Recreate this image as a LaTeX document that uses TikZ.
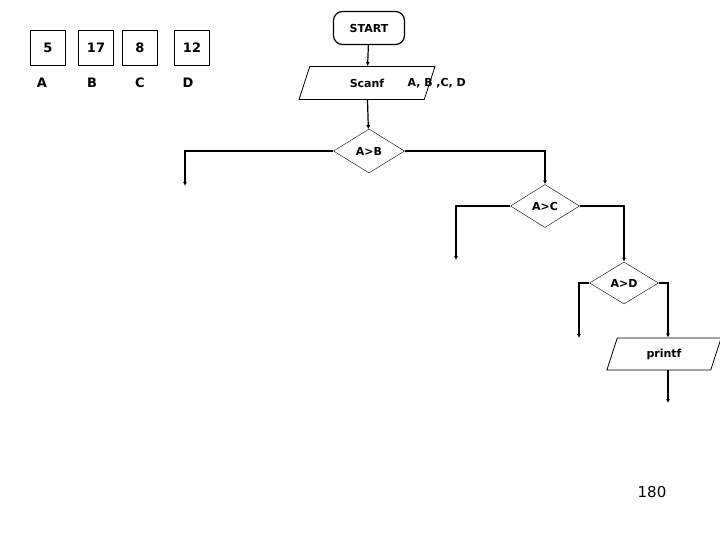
\documentclass[tikz,border=0pt]{standalone}
\usepackage{fontspec}
\setmainfont{DejaVu Sans}
\usetikzlibrary{shapes.geometric,arrows.meta}
\begin{document}
\begin{tikzpicture}[x=1pt,y=-1pt,
  box/.style={draw,line width=0.8pt,minimum width=35pt,minimum height=35pt,font=\bfseries\fontsize{13}{13}\selectfont},
  lab/.style={font=\bfseries\fontsize{13}{13}\selectfont},
  dia/.style={draw,diamond,aspect=1.6,inner sep=0pt,minimum width=71pt,minimum height=44pt,font=\bfseries\fontsize{11}{11}\selectfont},
  para/.style={draw,line width=0.8pt,trapezium,trapezium left angle=72,trapezium right angle=108,inner sep=1pt,font=\bfseries\fontsize{11}{11}\selectfont},
  ln/.style={line width=1.2pt,-{Latex[length=4pt,width=4pt]}}]
\useasboundingbox (0,0) rectangle (720,540);
\node[box] (b5) at (48,48) {5};
\node[box] (b17) at (96,48) {17};
\node[box] (b8) at (140,48) {8};
\node[box] (b12) at (192,48) {12};
\node[lab] (lA) at (42,83) {A};
\node[lab] (lB) at (92,83) {B};
\node[lab] (lC) at (140,83) {C};
\node[lab] (lD) at (188,83) {D};
\node[draw,line width=1.2pt,rounded corners=9pt,minimum width=71pt,minimum height=33pt,font=\bfseries\fontsize{11}{11}\selectfont] (start) at (369,28) {START};
\node[para,minimum width=60pt,minimum height=33pt] (scanf) at (367,83) {Scanf};
\node[lab,font=\bfseries\fontsize{11}{11}\selectfont,anchor=west] (vars) at (404,83) {A, B ,C, D};
\node[dia] (ab) at (369,151) {A>B};
\node[dia,minimum width=69pt,minimum height=43pt] (ac) at (545,206) {A>C};
\node[dia,minimum width=69pt,minimum height=42pt] (ad) at (624,283) {A>D};
\node[para,minimum width=54pt,minimum height=32pt] (pf) at (664,354) {printf};
\coordinate (e1) at (185,186);
\coordinate (e2) at (456,260);
\coordinate (e3) at (579,338);
\coordinate (e4) at (668,403);
\node[font=\fontsize{15}{15}\selectfont] (n180) at (652,492) {180};
\draw[ln] (start) -- (scanf);
\draw[ln] (scanf) -- (ab);
\draw[ln] (ab.west) -| (e1);
\draw[ln] (ab.east) -| (ac.north);
\draw[ln] (ac.west) -| (e2);
\draw[ln] (ac.east) -| (ad.north);
\draw[ln] (ad.west) -| (e3);
\draw[ln] (ad.east) -| (pf.north -| e4);
\draw[ln] (pf.south -| e4) -- (e4);
\end{tikzpicture}
\end{document}
